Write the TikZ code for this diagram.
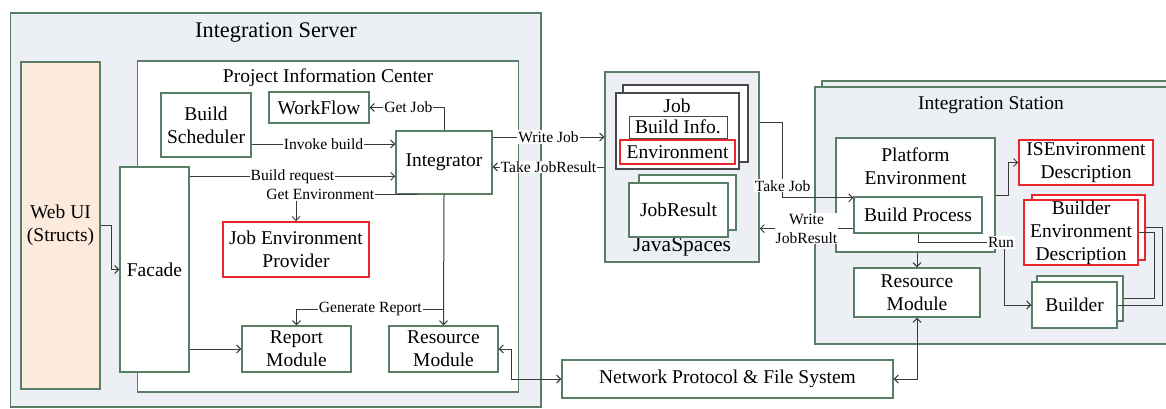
\documentclass[tikz,border=0pt]{standalone}
\usepackage{fontspec}
\setmainfont{Liberation Serif}
\usetikzlibrary{arrows.meta,calc}
\definecolor{frame}{HTML}{5A7D66}
\definecolor{panel}{HTML}{ECF0F5}
\definecolor{peach}{HTML}{FCEADD}
\definecolor{alert}{HTML}{E8262B}
\definecolor{wirec}{HTML}{3A3A3A}
\definecolor{jobline}{HTML}{484848}
\newcommand\txtmain{\fontsize{19.5}{23}\selectfont}
\newcommand\txtlbl{\fontsize{15.6}{19}\selectfont}
\newcommand\txtbig{\fontsize{22.3}{26}\selectfont}
\begin{document}
\begin{tikzpicture}[x=1pt,y=-1pt,
  box/.style={draw=frame,line width=1.3pt,fill=white,inner sep=0pt,align=center,font=\txtmain},
  redbox/.style={box,draw=alert,line width=1.6pt},
  panelbox/.style={box,fill=panel},
  jobbox/.style={box,draw=jobline,line width=1.1pt},
  title/.style={inner sep=0pt,align=center,font=\txtmain},
  lbl/.style={fill=white,inner sep=1pt,align=center,font=\txtlbl},
  wire/.style={draw=wirec,line width=1pt},
  arr/.style={wire,-{Straight Barb[length=4pt,width=8pt]}},
  darr/.style={wire,{Straight Barb[length=4pt,width=8pt]}-{Straight Barb[length=4pt,width=8pt]}},
  sz/.style 2 args={minimum width=#1pt,minimum height=#2pt}
]
\useasboundingbox (0,0) rectangle (1166,408);
\clip (0,0) rectangle (1166,408);
\fill[white] (0,0) rectangle (1166,408);

% ---------------- Integration Server ----------------
\node[panelbox,sz={530.5}{394}] (isrv) at (275.75,210) {};
\node[title,font=\txtbig] (isrvt) at (276,33) {Integration Server};
\node[box,fill=peach,sz={79}{327}] (webui) at (60.5,225.5) {Web UI\\(Structs)};
\node[box,sz={381}{331}] (pic) at (328,226.5) {};
\node[title] (pict) at (328,78) {Project Information Center};
\node[box,sz={90}{64}] (bs) at (206,125) {Build\\Scheduler};
\node[box,sz={100}{31}] (wf) at (319,107.5) {WorkFlow};
\node[box,sz={96}{63}] (intg) at (444,162.5) {Integrator};
\node[box,sz={69}{205}] (facade) at (154.5,269.5) {Facade};
\node[redbox,sz={146}{55}] (jep) at (296,249.5) {Job Environment\\Provider};
\node[box,sz={109}{46}] (rpt) at (296.5,349) {Report\\Module};
\node[box,sz={109}{46}] (res1) at (443.5,349) {Resource\\Module};

% ---------------- Shared network ----------------
\node[box,sz={331}{38}] (net) at (727.5,379) {Network Protocol \& File System};

% ---------------- JavaSpaces ----------------
\node[panelbox,sz={154}{190}] (js) at (682,167) {};
\node[title,font=\fontsize{21.5}{24}\selectfont] (jst) at (682,247) {JavaSpaces};
\node[jobbox,sz={125}{77}] (jobb) at (685.5,123.5) {};
\node[jobbox,sz={123}{76}] (jobf) at (677.5,131) {};
\node[title] (jobt) at (677,106) {Job};
\node[jobbox,line width=1pt,sz={98}{22}] (binfo) at (678,127) {Build Info.};
\node[redbox,sz={115}{24}] (env) at (677.5,152) {Environment};
\node[box,sz={97}{55}] (jrb) at (687.5,202.5) {};
\node[box,sz={99}{54}] (jrf) at (678.5,210) {JobResult};

% ---------------- Integration Station ----------------
\node[panelbox,sz={368}{257}] (istb) at (1006,209.5) {};
\node[panelbox,sz={368}{257}] (istf) at (999,215.5) {};
\node[title] (istt) at (991,105) {Integration Station};
\node[box,sz={159}{114}] (pe) at (915.5,195) {};
\node[title] (pet) at (915.5,166) {Platform\\Environment};
\node[box,sz={128}{36}] (bp) at (918,215) {Build Process};
\node[box,sz={126}{49}] (res2) at (917,292.5) {Resource\\Module};
\node[redbox,sz={134}{45}] (ised) at (1086,162.5) {ISEnvironment\\Description};
\node[redbox,sz={113}{65}] (bedb) at (1088.5,227.5) {};
\node[redbox,sz={114}{65}] (bedf) at (1081,232.5) {Builder\\Environment\\Description};
\node[box,sz={86}{45}] (bldb) at (1080,298.5) {};
\node[box,sz={85}{46}] (bldf) at (1074.5,305) {Builder};

% ---------------- Connectors inside the server ----------------
\draw[arr] (webui.east) -- ++(11,0) |- (facade.west);
\coordinate (ib) at ([yshift=-19pt]bs.east);
\draw[arr] (ib) -- (ib -| intg.west) node[lbl,midway] {Invoke build};
\coordinate (br) at ([yshift=-10pt]facade.north east);
\draw[arr] (br) -- (br -| intg.west) node[lbl,midway] {Build request};
\draw[arr] (intg.north) |- (wf.east) node[lbl,pos=0.74] {Get Job};
\coordinate (ge) at ([xshift=22pt]intg.south west);
\draw[arr] (ge) -| (jep.north) node[lbl,pos=0.4] {Get Environment};
\draw[arr] (intg.south) -- (res1.north);
\coordinate (gr) at (intg.south |- 0,309);
\draw[arr] (gr) -| (rpt.north) node[lbl,pos=0.25] {Generate Report};
\draw[arr] (facade.east |- rpt.west) -- (rpt.west);
\draw[darr] (res1.east) -- ++(13,0) |- (net.west);
\draw[darr] (net.east) -| (res2.south);

% ---------------- Server <-> JavaSpaces ----------------
\coordinate (wj) at ([yshift=25.5pt]intg.east);
\draw[arr] (wj) -- (wj -| js.west) node[lbl,midway] {Write Job};
\coordinate (tj) at ([yshift=-4.5pt]intg.east);
\draw[arr] (tj -| js.west) -- (tj) node[lbl,midway] {Take JobResult};

% ---------------- JavaSpaces <-> Station ----------------
\coordinate (tk) at ([yshift=45pt]js.east);
\draw[arr] (tk) -- ++(23,0) |- ([yshift=-1.5pt]bp.north west) node[lbl,pos=0.42] {Take Job};
\coordinate (wr) at ([yshift=5pt]bp.south west);
\draw[arr] (wr) -- (wr -| js.east) node[lbl,midway] {Write\\JobResult};

% ---------------- Connectors inside the station ----------------
\draw[arr] (res2.north |- pe.south) -- (res2.north);
\draw[arr] (pe.east) -- ++(13,0) |- (ised.west);
\coordinate (rc) at ([xshift=86pt,yshift=-9pt]bp.south);
\draw[arr] (bp.south) |- (rc) |- (bldf.west);
\node[lbl] (runl) at ([xshift=-3pt]rc) {Run};
\draw[wire] (bedf.east) -- ++(16,0) |- (bldb.east);
\draw[wire] (bedb.east) -- ++(17,0) |- (bldf.east);
\end{tikzpicture}
\end{document}
